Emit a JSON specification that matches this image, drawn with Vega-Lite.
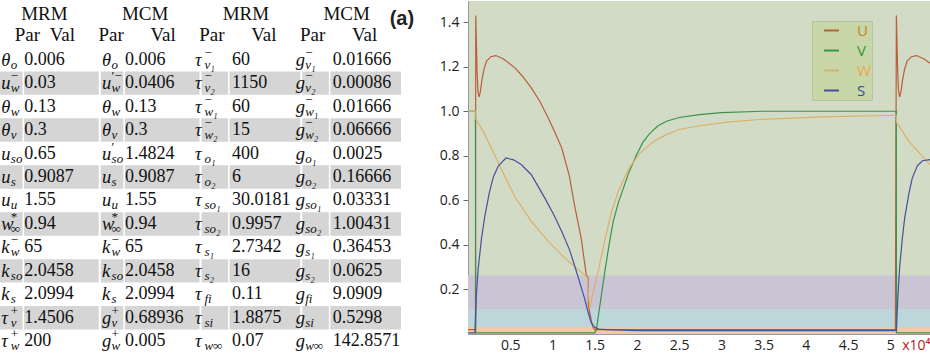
{
  "$schema": "https://vega.github.io/schema/vega-lite/v6.json",
  "padding": 0,
  "background": "white",
  "bounds": "flush",
  "spacing": 67,
  "config": {"view": {"stroke": null}},
  "resolve": {"scale": {"color": "independent"}, "legend": {"color": "independent"}},
  "datasets": {
    "heads": [
      {"pair": "MRM1", "name": "MRM"}, {"pair": "MCM1", "name": "MCM"},
      {"pair": "MRM2", "name": "MRM"}, {"pair": "MCM2", "name": "MCM"}
    ],
    "cells": [
      {"row": 1, "pair": "MRM1", "sym": "θ", "sub": "o", "sup": "", "val": 0.006},
      {"row": 1, "pair": "MCM1", "sym": "θ", "sub": "o", "sup": "", "val": 0.006},
      {"row": 1, "pair": "MRM2", "sym": "τ", "sub": "v₁", "sup": "−", "val": 60},
      {"row": 1, "pair": "MCM2", "sym": "g", "sub": "v₁", "sup": "−", "val": 0.01666},
      {"row": 2, "pair": "MRM1", "sym": "u", "sub": "w", "sup": "−", "val": 0.03},
      {"row": 2, "pair": "MCM1", "sym": "u", "sub": "w", "sup": "′−", "val": 0.0406},
      {"row": 2, "pair": "MRM2", "sym": "τ", "sub": "v₂", "sup": "−", "val": 1150},
      {"row": 2, "pair": "MCM2", "sym": "g", "sub": "v₂", "sup": "−", "val": 0.00086},
      {"row": 3, "pair": "MRM1", "sym": "θ", "sub": "w", "sup": "", "val": 0.13},
      {"row": 3, "pair": "MCM1", "sym": "θ", "sub": "w", "sup": "", "val": 0.13},
      {"row": 3, "pair": "MRM2", "sym": "τ", "sub": "w₁", "sup": "−", "val": 60},
      {"row": 3, "pair": "MCM2", "sym": "g", "sub": "w₁", "sup": "−", "val": 0.01666},
      {"row": 4, "pair": "MRM1", "sym": "θ", "sub": "v", "sup": "", "val": 0.3},
      {"row": 4, "pair": "MCM1", "sym": "θ", "sub": "v", "sup": "", "val": 0.3},
      {"row": 4, "pair": "MRM2", "sym": "τ", "sub": "w₂", "sup": "−", "val": 15},
      {"row": 4, "pair": "MCM2", "sym": "g", "sub": "w₂", "sup": "−", "val": 0.06666},
      {"row": 5, "pair": "MRM1", "sym": "u", "sub": "so", "sup": "", "val": 0.65},
      {"row": 5, "pair": "MCM1", "sym": "u", "sub": "so", "sup": "′", "val": 1.4824},
      {"row": 5, "pair": "MRM2", "sym": "τ", "sub": "o₁", "sup": "", "val": 400},
      {"row": 5, "pair": "MCM2", "sym": "g", "sub": "o₁", "sup": "", "val": 0.0025},
      {"row": 6, "pair": "MRM1", "sym": "u", "sub": "s", "sup": "", "val": 0.9087},
      {"row": 6, "pair": "MCM1", "sym": "u", "sub": "s", "sup": "", "val": 0.9087},
      {"row": 6, "pair": "MRM2", "sym": "τ", "sub": "o₂", "sup": "", "val": 6},
      {"row": 6, "pair": "MCM2", "sym": "g", "sub": "o₂", "sup": "", "val": 0.16666},
      {"row": 7, "pair": "MRM1", "sym": "u", "sub": "u", "sup": "", "val": 1.55},
      {"row": 7, "pair": "MCM1", "sym": "u", "sub": "u", "sup": "", "val": 1.55},
      {"row": 7, "pair": "MRM2", "sym": "τ", "sub": "so₁", "sup": "", "val": 30.0181},
      {"row": 7, "pair": "MCM2", "sym": "g", "sub": "so₁", "sup": "", "val": 0.03331},
      {"row": 8, "pair": "MRM1", "sym": "w", "sub": "∞", "sup": "*", "val": 0.94},
      {"row": 8, "pair": "MCM1", "sym": "w", "sub": "∞", "sup": "*", "val": 0.94},
      {"row": 8, "pair": "MRM2", "sym": "τ", "sub": "so₂", "sup": "", "val": 0.9957},
      {"row": 8, "pair": "MCM2", "sym": "g", "sub": "so₂", "sup": "", "val": 1.00431},
      {"row": 9, "pair": "MRM1", "sym": "k", "sub": "w", "sup": "−", "val": 65},
      {"row": 9, "pair": "MCM1", "sym": "k", "sub": "w", "sup": "−", "val": 65},
      {"row": 9, "pair": "MRM2", "sym": "τ", "sub": "s₁", "sup": "", "val": 2.7342},
      {"row": 9, "pair": "MCM2", "sym": "g", "sub": "s₁", "sup": "", "val": 0.36453},
      {"row": 10, "pair": "MRM1", "sym": "k", "sub": "so", "sup": "", "val": 2.0458},
      {"row": 10, "pair": "MCM1", "sym": "k", "sub": "so", "sup": "", "val": 2.0458},
      {"row": 10, "pair": "MRM2", "sym": "τ", "sub": "s₂", "sup": "", "val": 16},
      {"row": 10, "pair": "MCM2", "sym": "g", "sub": "s₂", "sup": "", "val": 0.0625},
      {"row": 11, "pair": "MRM1", "sym": "k", "sub": "s", "sup": "", "val": 2.0994},
      {"row": 11, "pair": "MCM1", "sym": "k", "sub": "s", "sup": "", "val": 2.0994},
      {"row": 11, "pair": "MRM2", "sym": "τ", "sub": "fi", "sup": "", "val": 0.11},
      {"row": 11, "pair": "MCM2", "sym": "g", "sub": "fi", "sup": "", "val": 9.0909},
      {"row": 12, "pair": "MRM1", "sym": "τ", "sub": "v", "sup": "+", "val": 1.4506},
      {"row": 12, "pair": "MCM1", "sym": "g", "sub": "v", "sup": "+", "val": 0.68936},
      {"row": 12, "pair": "MRM2", "sym": "τ", "sub": "si", "sup": "", "val": 1.8875},
      {"row": 12, "pair": "MCM2", "sym": "g", "sub": "si", "sup": "", "val": 0.5298},
      {"row": 13, "pair": "MRM1", "sym": "τ", "sub": "w", "sup": "+", "val": 200},
      {"row": 13, "pair": "MCM1", "sym": "g", "sub": "w", "sup": "+", "val": 0.005},
      {"row": 13, "pair": "MRM2", "sym": "τ", "sub": "w∞", "sup": "", "val": 0.07},
      {"row": 13, "pair": "MCM2", "sym": "g", "sub": "w∞", "sup": "", "val": 142.8571}
    ],
    "zones": [
      {"zone": "upper", "lo": 0.111, "hi": 0.263},
      {"zone": "middle", "lo": 0.03, "hi": 0.111},
      {"zone": "lower", "lo": 0, "hi": 0.03}
    ],
    "series": [
      {"s": "U", "x": 0, "y": 0.02}, {"s": "U", "x": 0.088, "y": 0.02}, {"s": "U", "x": 0.092, "y": 1.43},
      {"s": "U", "x": 0.1, "y": 1.3}, {"s": "U", "x": 0.108, "y": 1.17}, {"s": "U", "x": 0.118, "y": 1.09},
      {"s": "U", "x": 0.13, "y": 1.064}, {"s": "U", "x": 0.145, "y": 1.085}, {"s": "U", "x": 0.165, "y": 1.14},
      {"s": "U", "x": 0.19, "y": 1.19}, {"s": "U", "x": 0.22, "y": 1.225}, {"s": "U", "x": 0.27, "y": 1.245},
      {"s": "U", "x": 0.33, "y": 1.25}, {"s": "U", "x": 0.42, "y": 1.235}, {"s": "U", "x": 0.556, "y": 1.195},
      {"s": "U", "x": 0.65, "y": 1.155}, {"s": "U", "x": 0.75, "y": 1.105}, {"s": "U", "x": 0.85, "y": 1.045},
      {"s": "U", "x": 0.95, "y": 0.97}, {"s": "U", "x": 1.03, "y": 0.905}, {"s": "U", "x": 1.11, "y": 0.835},
      {"s": "U", "x": 1.2, "y": 0.71}, {"s": "U", "x": 1.26, "y": 0.58}, {"s": "U", "x": 1.34, "y": 0.43},
      {"s": "U", "x": 1.4, "y": 0.266}, {"s": "U", "x": 1.42, "y": 0.255}, {"s": "U", "x": 1.425, "y": 0.13},
      {"s": "U", "x": 1.44, "y": 0.1}, {"s": "U", "x": 1.46, "y": 0.06}, {"s": "U", "x": 1.48, "y": 0.03},
      {"s": "U", "x": 1.5, "y": 0.02}, {"s": "U", "x": 5.06, "y": 0.02}, {"s": "U", "x": 5.072, "y": 1.43},
      {"s": "U", "x": 5.08, "y": 1.3}, {"s": "U", "x": 5.088, "y": 1.17}, {"s": "U", "x": 5.098, "y": 1.09},
      {"s": "U", "x": 5.11, "y": 1.064}, {"s": "U", "x": 5.125, "y": 1.085}, {"s": "U", "x": 5.145, "y": 1.14},
      {"s": "U", "x": 5.17, "y": 1.19}, {"s": "U", "x": 5.2, "y": 1.225}, {"s": "U", "x": 5.25, "y": 1.245},
      {"s": "U", "x": 5.31, "y": 1.25}, {"s": "U", "x": 5.4, "y": 1.235}, {"s": "U", "x": 5.47, "y": 1.215},

      {"s": "V", "x": 0, "y": 1.0}, {"s": "V", "x": 0.088, "y": 1.0}, {"s": "V", "x": 0.092, "y": 0.005},
      {"s": "V", "x": 1.5, "y": 0.005}, {"s": "V", "x": 1.52, "y": 0.02}, {"s": "V", "x": 1.57, "y": 0.15},
      {"s": "V", "x": 1.62, "y": 0.28}, {"s": "V", "x": 1.67, "y": 0.4}, {"s": "V", "x": 1.72, "y": 0.506},
      {"s": "V", "x": 1.78, "y": 0.59}, {"s": "V", "x": 1.84, "y": 0.655}, {"s": "V", "x": 1.9, "y": 0.72},
      {"s": "V", "x": 1.99, "y": 0.8}, {"s": "V", "x": 2.07, "y": 0.86}, {"s": "V", "x": 2.15, "y": 0.9},
      {"s": "V", "x": 2.25, "y": 0.935}, {"s": "V", "x": 2.35, "y": 0.955}, {"s": "V", "x": 2.5, "y": 0.972},
      {"s": "V", "x": 2.74, "y": 0.985}, {"s": "V", "x": 3.0, "y": 0.994}, {"s": "V", "x": 3.49, "y": 1.0},
      {"s": "V", "x": 5.07, "y": 1.0}, {"s": "V", "x": 5.074, "y": 0.005}, {"s": "V", "x": 5.47, "y": 0.005},

      {"s": "W", "x": 0, "y": 1.0}, {"s": "W", "x": 0.09, "y": 1.0}, {"s": "W", "x": 0.094, "y": 0.965},
      {"s": "W", "x": 0.2, "y": 0.895}, {"s": "W", "x": 0.32, "y": 0.8}, {"s": "W", "x": 0.42, "y": 0.72},
      {"s": "W", "x": 0.556, "y": 0.615}, {"s": "W", "x": 0.75, "y": 0.506}, {"s": "W", "x": 0.95, "y": 0.416},
      {"s": "W", "x": 1.15, "y": 0.34}, {"s": "W", "x": 1.3, "y": 0.29}, {"s": "W", "x": 1.41, "y": 0.256},
      {"s": "W", "x": 1.44, "y": 0.116}, {"s": "W", "x": 1.49, "y": 0.2}, {"s": "W", "x": 1.54, "y": 0.28},
      {"s": "W", "x": 1.62, "y": 0.42}, {"s": "W", "x": 1.7, "y": 0.55}, {"s": "W", "x": 1.78, "y": 0.64},
      {"s": "W", "x": 1.84, "y": 0.69}, {"s": "W", "x": 1.9, "y": 0.74}, {"s": "W", "x": 2.03, "y": 0.81},
      {"s": "W", "x": 2.2, "y": 0.865}, {"s": "W", "x": 2.35, "y": 0.895}, {"s": "W", "x": 2.5, "y": 0.918},
      {"s": "W", "x": 2.74, "y": 0.935}, {"s": "W", "x": 3.1, "y": 0.952}, {"s": "W", "x": 3.45, "y": 0.963},
      {"s": "W", "x": 4.2, "y": 0.975}, {"s": "W", "x": 5.07, "y": 0.982}, {"s": "W", "x": 5.074, "y": 0.95},
      {"s": "W", "x": 5.22, "y": 0.865}, {"s": "W", "x": 5.47, "y": 0.76},

      {"s": "S", "x": 0, "y": 0.005}, {"s": "S", "x": 0.082, "y": 0.005}, {"s": "S", "x": 0.088, "y": 0.06},
      {"s": "S", "x": 0.1, "y": 0.18}, {"s": "S", "x": 0.12, "y": 0.29}, {"s": "S", "x": 0.16, "y": 0.43},
      {"s": "S", "x": 0.2, "y": 0.53}, {"s": "S", "x": 0.25, "y": 0.63}, {"s": "S", "x": 0.3, "y": 0.705},
      {"s": "S", "x": 0.36, "y": 0.755}, {"s": "S", "x": 0.45, "y": 0.79}, {"s": "S", "x": 0.54, "y": 0.782},
      {"s": "S", "x": 0.634, "y": 0.76}, {"s": "S", "x": 0.75, "y": 0.715}, {"s": "S", "x": 0.91, "y": 0.61},
      {"s": "S", "x": 1.01, "y": 0.54}, {"s": "S", "x": 1.11, "y": 0.46}, {"s": "S", "x": 1.2, "y": 0.38},
      {"s": "S", "x": 1.26, "y": 0.31}, {"s": "S", "x": 1.32, "y": 0.235}, {"s": "S", "x": 1.38, "y": 0.16},
      {"s": "S", "x": 1.42, "y": 0.1}, {"s": "S", "x": 1.46, "y": 0.05}, {"s": "S", "x": 1.5, "y": 0.03},
      {"s": "S", "x": 1.55, "y": 0.022}, {"s": "S", "x": 1.65, "y": 0.02}, {"s": "S", "x": 2.0, "y": 0.015},
      {"s": "S", "x": 5.07, "y": 0.015}, {"s": "S", "x": 5.074, "y": 0.04}, {"s": "S", "x": 5.09, "y": 0.17},
      {"s": "S", "x": 5.11, "y": 0.296}, {"s": "S", "x": 5.14, "y": 0.42}, {"s": "S", "x": 5.17, "y": 0.52},
      {"s": "S", "x": 5.22, "y": 0.63}, {"s": "S", "x": 5.26, "y": 0.7}, {"s": "S", "x": 5.32, "y": 0.755},
      {"s": "S", "x": 5.38, "y": 0.778}, {"s": "S", "x": 5.47, "y": 0.783}
    ]
  },
  "hconcat": [
    {
      "width": 401,
      "height": 352,
      "encoding": {
        "x": {"field": "pair", "type": "nominal", "scale": {"type": "band", "domain": ["MRM1", "MCM1", "MRM2", "MCM2"], "paddingInner": 0.02, "paddingOuter": 0}, "axis": null},
        "y": {"field": "row", "type": "ordinal", "scale": {"type": "band", "domain": [-1, 0, 1, 2, 3, 4, 5, 6, 7, 8, 9, 10, 11, 12, 13], "paddingInner": 0, "paddingOuter": 0}, "axis": null}
      },
      "layer": [
        {
          "data": {"name": "cells"},
          "transform": [{"filter": {"field": "row", "oneOf": [2, 4, 6, 8, 10, 12]}}],
          "mark": {"type": "rect", "color": "#d5d5d5"}
        },
        {
          "data": {"name": "heads"},
          "transform": [{"filter": {"field": "pair", "oneOf": ["MRM1", "MCM1"]}}],
          "mark": {"type": "rule", "color": "white", "strokeWidth": 1.5, "xOffset": -26},
          "encoding": {"y": null}
        },
        {
          "data": {"name": "heads"},
          "transform": [{"filter": {"field": "pair", "oneOf": ["MRM2", "MCM2"]}}],
          "mark": {"type": "rule", "color": "white", "strokeWidth": 1.5, "xOffset": -22},
          "encoding": {"y": null}
        },
        {
          "mark": {"type": "rule", "color": "#888888", "strokeWidth": 1, "yOffset": 0.5},
          "encoding": {"x": null, "y": {"datum": -1, "type": "ordinal", "bandPosition": 0}}
        },
        {
          "mark": {"type": "rule", "color": "#555555", "strokeWidth": 1, "yOffset": -6},
          "encoding": {"x": null, "y": {"datum": 1, "type": "ordinal", "bandPosition": 0}}
        },
        {
          "mark": {"type": "rule", "color": "#555555", "strokeWidth": 1, "yOffset": -3},
          "encoding": {"x": null, "y": {"datum": 1, "type": "ordinal", "bandPosition": 0}}
        },
        {
          "mark": {"type": "rule", "color": "#333333", "strokeWidth": 1.5, "yOffset": -0.5},
          "encoding": {"x": null, "y": {"datum": 13, "type": "ordinal", "bandPosition": 1}}
        },
        {
          "data": {"name": "heads"},
          "mark": {"type": "text", "font": "Liberation Serif", "fontSize": 19, "color": "#111111", "align": "center", "baseline": "middle", "dx": -5, "dy": 1},
          "encoding": {"y": {"datum": -1, "type": "ordinal"}, "text": {"field": "name", "type": "nominal"}}
        },
        {
          "data": {"name": "heads"},
          "transform": [{"filter": {"field": "pair", "equal": "MRM1"}}],
          "mark": {"type": "text", "text": "Par", "font": "Liberation Serif", "fontSize": 19, "color": "#111111", "align": "center", "baseline": "middle", "dx": -22, "dy": -1},
          "encoding": {"y": {"datum": 0, "type": "ordinal"}}
        },
        {
          "data": {"name": "heads"},
          "transform": [{"filter": {"field": "pair", "oneOf": ["MCM1", "MRM2", "MCM2"]}}],
          "mark": {"type": "text", "text": "Par", "font": "Liberation Serif", "fontSize": 19, "color": "#111111", "align": "center", "baseline": "middle", "dx": -39, "dy": -1},
          "encoding": {"y": {"datum": 0, "type": "ordinal"}}
        },
        {
          "data": {"name": "heads"},
          "mark": {"type": "text", "text": "Val", "font": "Liberation Serif", "fontSize": 19, "color": "#111111", "align": "center", "baseline": "middle", "dx": 13, "dy": -1},
          "encoding": {"y": {"datum": 0, "type": "ordinal"}}
        },
        {
          "data": {"name": "heads"},
          "transform": [{"filter": {"field": "pair", "equal": "MCM2"}}],
          "mark": {"type": "text", "text": "(a)", "font": "Liberation Sans", "fontWeight": "bold", "fontSize": 20, "color": "#222222", "align": "left", "baseline": "middle", "dx": 38, "dy": 6},
          "encoding": {"y": {"datum": -1, "type": "ordinal"}}
        },
        {
          "data": {"name": "cells"},
          "transform": [{"filter": {"field": "pair", "oneOf": ["MRM1", "MCM1"]}}],
          "mark": {"type": "text", "font": "Liberation Serif", "fontStyle": "italic", "fontSize": 18.5, "color": "#111111", "align": "left", "baseline": "middle", "dx": -48},
          "encoding": {"text": {"field": "sym", "type": "nominal"}}
        },
        {
          "data": {"name": "cells"},
          "transform": [{"filter": {"field": "pair", "oneOf": ["MRM1", "MCM1"]}}],
          "mark": {"type": "text", "font": "Liberation Serif", "fontStyle": "italic", "fontSize": 13, "color": "#111111", "align": "left", "baseline": "middle", "dx": -38.5, "dy": 5},
          "encoding": {"text": {"field": "sub", "type": "nominal"}}
        },
        {
          "data": {"name": "cells"},
          "transform": [{"filter": {"field": "pair", "oneOf": ["MRM1", "MCM1"]}}],
          "mark": {"type": "text", "font": "Liberation Serif", "fontSize": 13, "color": "#111111", "align": "left", "baseline": "middle", "dx": -38.5, "dy": -7},
          "encoding": {"text": {"field": "sup", "type": "nominal"}}
        },
        {
          "data": {"name": "cells"},
          "transform": [{"filter": {"field": "pair", "oneOf": ["MRM1", "MCM1"]}}],
          "mark": {"type": "text", "font": "Liberation Serif", "fontSize": 18, "color": "#111111", "align": "left", "baseline": "middle", "dx": -25},
          "encoding": {"text": {"field": "val", "type": "nominal"}}
        },
        {
          "data": {"name": "cells"},
          "transform": [{"filter": {"field": "pair", "oneOf": ["MRM2", "MCM2"]}}],
          "mark": {"type": "text", "font": "Liberation Serif", "fontStyle": "italic", "fontSize": 18.5, "color": "#111111", "align": "left", "baseline": "middle", "dx": -56},
          "encoding": {"text": {"field": "sym", "type": "nominal"}}
        },
        {
          "data": {"name": "cells"},
          "transform": [{"filter": {"field": "pair", "oneOf": ["MRM2", "MCM2"]}}],
          "mark": {"type": "text", "font": "Liberation Serif", "fontStyle": "italic", "fontSize": 13, "color": "#111111", "align": "left", "baseline": "middle", "dx": -46.5, "dy": 5},
          "encoding": {"text": {"field": "sub", "type": "nominal"}}
        },
        {
          "data": {"name": "cells"},
          "transform": [{"filter": {"field": "pair", "oneOf": ["MRM2", "MCM2"]}}],
          "mark": {"type": "text", "font": "Liberation Serif", "fontSize": 13, "color": "#111111", "align": "left", "baseline": "middle", "dx": -46.5, "dy": -7},
          "encoding": {"text": {"field": "sup", "type": "nominal"}}
        },
        {
          "data": {"name": "cells"},
          "transform": [{"filter": {"field": "pair", "oneOf": ["MRM2", "MCM2"]}}],
          "mark": {"type": "text", "font": "Liberation Serif", "fontSize": 18, "color": "#111111", "align": "left", "baseline": "middle", "dx": -19},
          "encoding": {"text": {"field": "val", "type": "nominal"}}
        }
      ]
    },
    {
      "width": 462,
      "height": 333,
      "view": {"fill": "#d2dbc5", "stroke": null},
      "layer": [
        {
          "data": {"name": "zones"},
          "mark": {"type": "rect"},
          "encoding": {
            "y": {"field": "lo", "type": "quantitative", "scale": {"domain": [0, 1.495], "nice": false, "zero": false}},
            "y2": {"field": "hi"},
            "fill": {"field": "zone", "type": "nominal", "scale": {"domain": ["upper", "middle", "lower"], "range": ["#c9c5d5", "#bcd6da", "#efcaa6"]}, "legend": null}
          }
        },
        {
          "data": {"name": "series"},
          "mark": {"type": "line", "strokeWidth": 1.2},
          "encoding": {
            "x": {"field": "x", "type": "quantitative", "scale": {"domain": [0, 5.47], "nice": false, "zero": false},
              "axis": {"values": [0.5, 1, 1.5, 2, 2.5, 3, 3.5, 4, 4.5, 5], "format": "~g", "grid": false, "tickSize": -6, "tickColor": "#555555", "domainColor": "#999999", "labelFont": "Open Sans", "labelFontSize": 14, "labelColor": "#222222", "labelPadding": 10,
                "title": "x10⁴", "titleColor": "#b3201c", "titleFont": "Open Sans", "titleFontWeight": "normal", "titleFontSize": 14, "titleAlign": "right", "titleAnchor": "end", "titleX": 462, "titleY": 11, "titleBaseline": "middle"}},
            "y": {"field": "y", "type": "quantitative", "scale": {"domain": [0, 1.495], "nice": false, "zero": false},
              "axis": {"values": [0.2, 0.4, 0.6, 0.8, 1.0, 1.2, 1.4], "format": ".1f", "grid": false, "tickSize": 5, "tickColor": "#666666", "domainColor": "#999999", "labelFont": "Open Sans", "labelFontSize": 14, "labelColor": "#222222", "labelPadding": 4, "title": null}},
            "color": {"field": "s", "type": "nominal", "scale": {"domain": ["U", "V", "W", "S"], "range": ["#b8603a", "#3a9448", "#dcb068", "#46509e"]},
              "legend": {"title": null, "orient": "none", "legendX": 344, "legendY": 20, "fillColor": "#c8d7a8", "strokeColor": "#b9c2a0", "padding": 1, "symbolOffset": 10, "symbolType": "stroke", "symbolSize": 225, "symbolStrokeWidth": 2, "labelFont": "Open Sans", "labelFontSize": 15, "labelOffset": 17, "rowPadding": 3,
                "encode": {"labels": {"update": {"fill": {"signal": "datum.value === 'U' ? '#c8822e' : datum.value === 'V' ? '#2d9a3c' : datum.value === 'W' ? '#e8a84a' : '#3848a8'"}}}}}}
          }
        },
        {
          "mark": {"type": "text", "text": "(b)", "font": "Liberation Sans", "fontWeight": "bold", "fontSize": 20, "color": "#222222", "align": "left", "baseline": "middle"},
          "encoding": {"x": {"datum": 0.52, "type": "quantitative"}, "y": {"datum": 1.396, "type": "quantitative"}}
        }
      ]
    }
  ]
}
